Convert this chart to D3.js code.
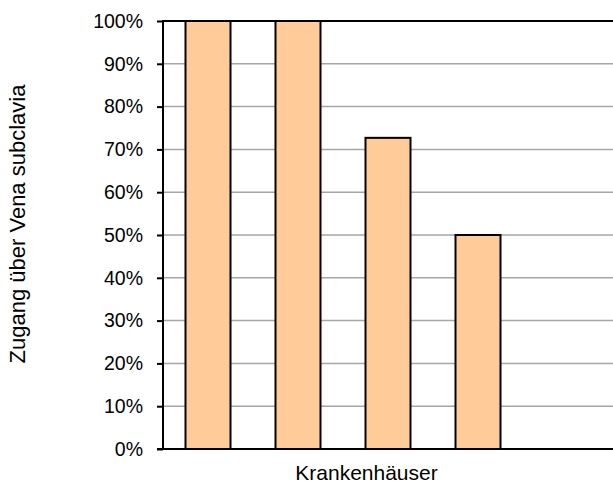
<!DOCTYPE html>
<html><head><meta charset="utf-8">
<script src="https://cdn.jsdelivr.net/npm/d3@7"></script>
<style>html,body{margin:0;padding:0;background:#fff;}svg{display:block;}</style>
</head><body>
<svg id="c" width="613" height="484"></svg>
<script>
const categories = ["Krankenhaus 1", "Krankenhaus 2", "Krankenhaus 3", "Krankenhaus 4", "Krankenhaus 5"];
const values = [1.0, 1.0, 0.727, 0.5, null];
const yTicks = [0, 0.1, 0.2, 0.3, 0.4, 0.5, 0.6, 0.7, 0.8, 0.9, 1.0];
const xTitle = "Krankenhäuser";
const yTitle = "Zugang über Vena subclavia";

const svg = d3.select("#c");
const font = "Arial, 'Liberation Sans', sans-serif";
const L = 163, R = 613, T = 21, B = 449;

const x = d3.scaleBand().domain(categories).range([L, R]).paddingInner(0.5).paddingOuter(0.25);
const y = d3.scaleLinear().domain([0, 1]).range([B, T]);

// gridlines
svg.append("g").selectAll("line").data(yTicks.filter(d => d > 0 && d < 1)).join("line")
  .attr("x1", L).attr("x2", R).attr("y1", d => y(d)).attr("y2", d => y(d))
  .attr("stroke", "#a6a6a6").attr("stroke-width", 1.5);
// top line
svg.append("line").attr("x1", L).attr("x2", R).attr("y1", y(1)).attr("y2", y(1))
  .attr("stroke", "#000").attr("stroke-width", 2);

// bars
svg.append("g").selectAll("rect").data(categories.map((c, i) => ({c, v: values[i]})).filter(d => d.v != null)).join("rect")
  .attr("x", d => x(d.c)).attr("width", x.bandwidth())
  .attr("y", d => y(d.v)).attr("height", d => y(0) - y(d.v))
  .attr("fill", "#FFCC99").attr("stroke", "#000").attr("stroke-width", 2);

// y axis
const yAxis = d3.axisLeft(y).tickValues(yTicks).tickFormat(d3.format(".0%")).tickSize(6).tickPadding(14);
const gy = svg.append("g").attr("transform", `translate(${L},0)`).call(yAxis);
gy.select(".domain").remove();
gy.selectAll(".tick line").attr("stroke", "#000").attr("stroke-width", 2);
gy.selectAll(".tick text").attr("font-family", font).attr("font-size", 19.5).attr("fill", "#000");
svg.append("line").attr("x1", L).attr("x2", L).attr("y1", T - 1).attr("y2", B + 1).attr("stroke", "#000").attr("stroke-width", 2);

// x axis line
svg.append("line").attr("x1", L - 6).attr("x2", R).attr("y1", B).attr("y2", B).attr("stroke", "#000").attr("stroke-width", 2);

// titles
svg.append("text").attr("x", 366.5).attr("y", 480).attr("text-anchor", "middle")
  .attr("font-family", font).attr("font-size", 21).attr("fill", "#000").text(xTitle);
svg.append("text").attr("transform", "translate(25,224) rotate(-90)").attr("text-anchor", "middle")
  .attr("font-family", font).attr("font-size", 22).attr("fill", "#000").text(yTitle);
</script>
</body></html>
